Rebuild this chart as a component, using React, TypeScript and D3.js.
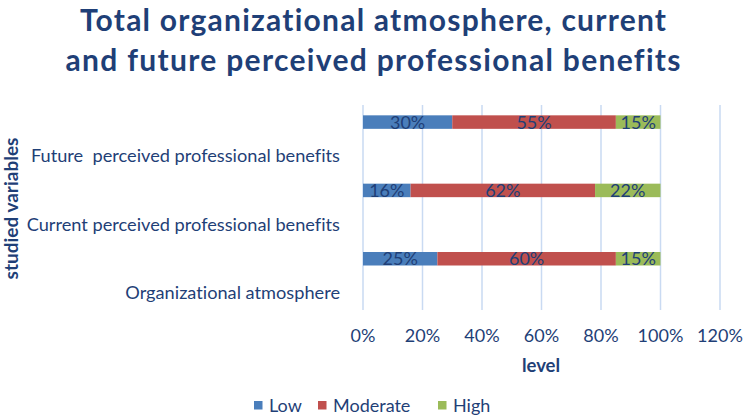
import React from "react";
import * as d3 from "d3";

const categories = [
  "Future  perceived professional benefits",
  "Current perceived professional benefits",
  "Organizational atmosphere",
];
const seriesNames = ["Low", "Moderate", "High"];
const lowValues = [30, 16, 25];
const moderateValues = [55, 62, 60];
const highValues = [15, 22, 15];
const xTicks = [0, 20, 40, 60, 80, 100, 120];
const titleLines = [
  "Total organizational atmosphere, current",
  "and future perceived professional benefits",
];

const colors = ["#4a7ebb", "#c0504d", "#9bbb59"];
const textColor = "#1f3f77";
const font = "Lato, 'Open Sans', sans-serif";
const noLig = { fontVariantLigatures: "none" as const, whiteSpace: "pre" as const };

const W = 744;
const H = 419;
const plot = { left: 363, right: 720, top: 105, bottom: 310 };
const titleWidths = [586, 615];

export default function App() {
  const x = d3.scaleLinear().domain([0, 120]).range([plot.left, plot.right]);
  const y = d3.scaleBand<string>().domain(categories).range([plot.top, plot.bottom]);
  const bw = y.bandwidth();
  const barH = 13.5;

  const rows = categories.map((c, i) => ({
    cat: c,
    vals: [lowValues[i], moderateValues[i], highValues[i]],
  }));
  const stacked = rows.map((r) => {
    let acc = 0;
    return r.vals.map((v, k) => {
      const s = { x0: acc, x1: acc + v, v, k };
      acc += v;
      return s;
    });
  });

  const legendX = [254, 318, 438];

  return (
    <svg width={W} height={H} style={{ position: "absolute", left: 0, top: 0 }}>
      <rect width={W} height={H} fill="#fff" />
      {titleLines.map((t, i) => (
        <text
          key={i}
          x={373}
          y={31 + i * 40}
          textAnchor="middle"
          fontFamily={font}
          fontWeight={700}
          fontSize={30}
          fill={textColor}
          textLength={titleWidths[i]}
          lengthAdjust="spacing"
          style={noLig}
        >
          {t}
        </text>
      ))}
      {xTicks.map((t) => (
        <g key={t}>
          <line x1={x(t)} x2={x(t)} y1={plot.top} y2={plot.bottom} stroke="#c9daf2" strokeWidth={1.5} />
          <text x={x(t)} y={342} textAnchor="middle" fontFamily={font} fontSize={18} fill={textColor}>
            {t}%
          </text>
        </g>
      ))}
      {rows.map((r, i) => {
        const cy = (y(r.cat) as number) + bw / 2;
        return (
          <g key={r.cat}>
            <text
              x={340}
              y={cy + bw / 4 + 6}
              textAnchor="end"
              fontFamily={font}
              fontSize={18.2}
              fill={textColor}
              style={noLig}
            >
              {r.cat}
            </text>
            {stacked[i].map((s) => (
              <g key={s.k}>
                <rect
                  x={x(s.x0)}
                  y={cy - bw / 4 - barH / 2}
                  width={x(s.x1) - x(s.x0)}
                  height={barH}
                  fill={colors[s.k]}
                />
                <text
                  x={(x(s.x0) + x(s.x1)) / 2}
                  y={cy - bw / 4 + 6.5}
                  textAnchor="middle"
                  fontFamily={font}
                  fontSize={18}
                  fill={textColor}
                >
                  {s.v}%
                </text>
              </g>
            ))}
          </g>
        );
      })}
      <text
        transform={`translate(18,${(plot.top + plot.bottom) / 2 + 1}) rotate(-90)`}
        textAnchor="middle"
        fontFamily={font}
        fontWeight={700}
        fontSize={19}
        fill={textColor}
      >
        studied variables
      </text>
      <text x={541} y={372} textAnchor="middle" fontFamily={font} fontWeight={700} fontSize={18.5} fill={textColor}>
        level
      </text>
      {seriesNames.map((n, k) => (
        <g key={n}>
          <rect x={legendX[k]} y={401} width={8.5} height={8.5} fill={colors[k]} />
          <text x={legendX[k] + 15} y={412} fontFamily={font} fontSize={18} fill={textColor}>
            {n}
          </text>
        </g>
      ))}
    </svg>
  );
}
